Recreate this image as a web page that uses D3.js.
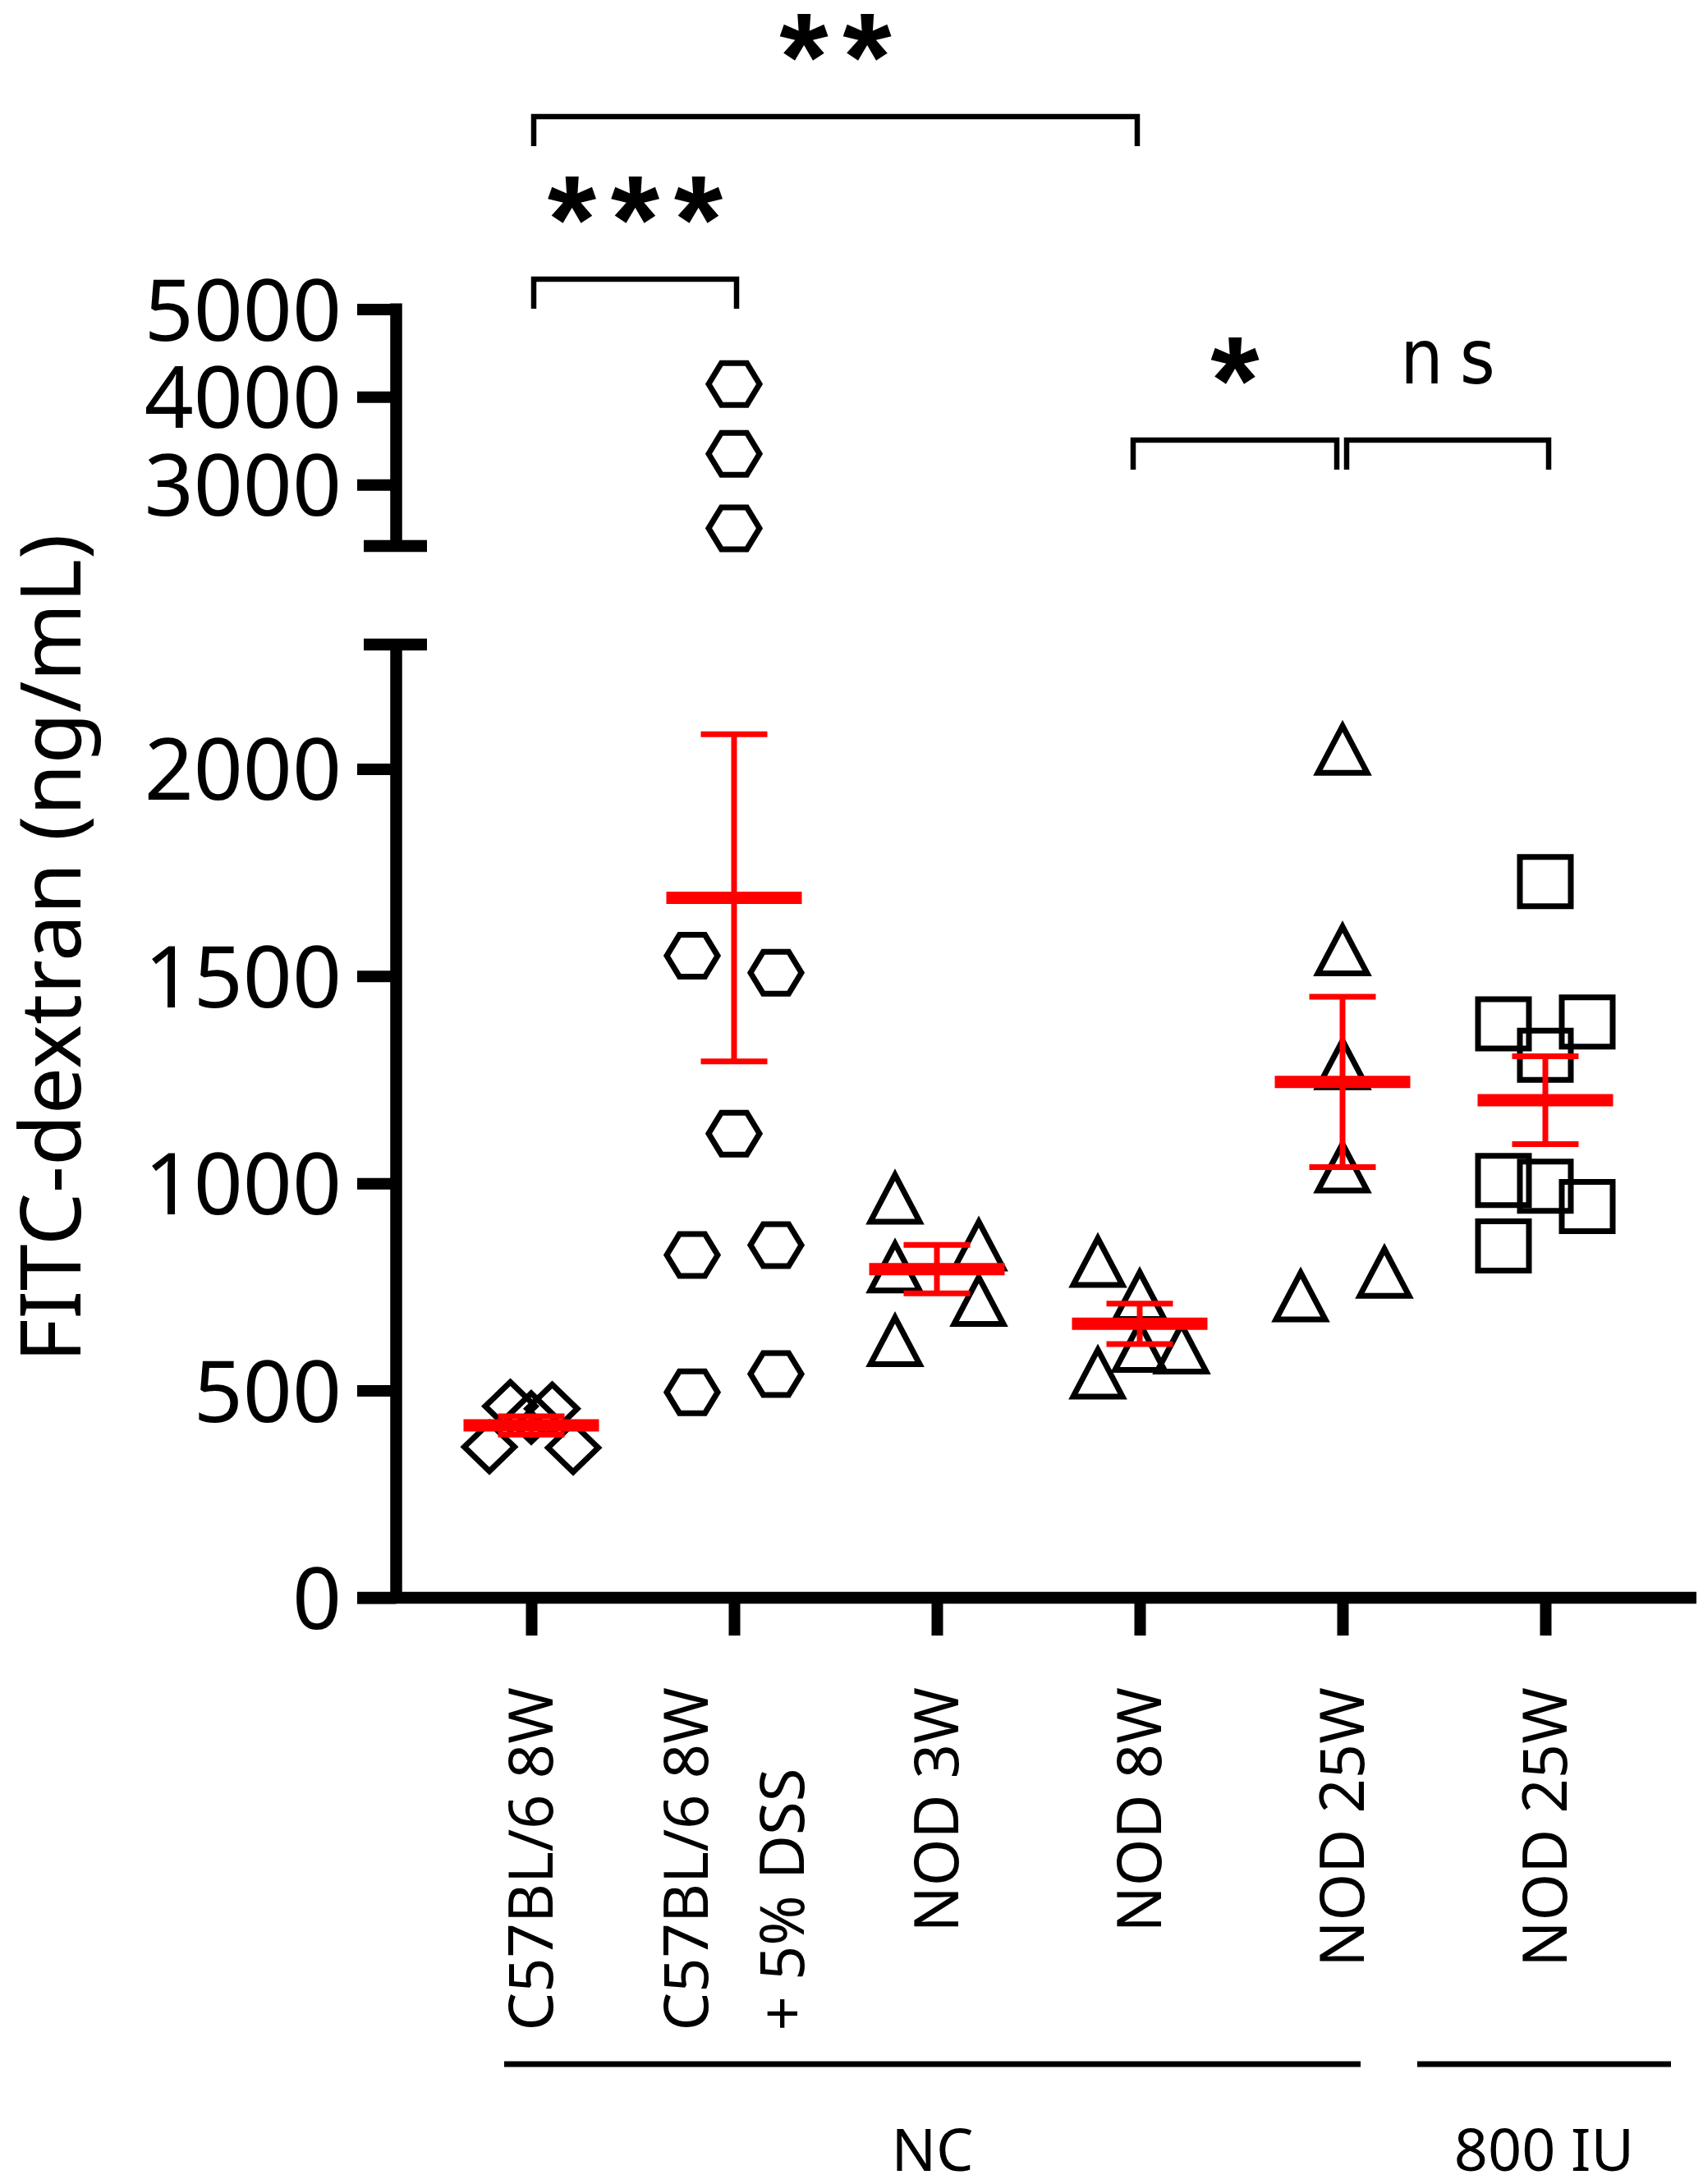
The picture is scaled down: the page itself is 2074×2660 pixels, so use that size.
<!DOCTYPE html>
<html>
<head>
<meta charset="utf-8">
<script src="https://cdn.jsdelivr.net/npm/d3@7"></script>
<style>
  body { margin: 0; background: #fff; }
</style>
</head>
<body>
<div id="chart"></div>
<script>
// groups, in x order
const groups = ["C57BL/6 8W", "C57BL/6 8W + 5% DSS", "NOD 3W", "NOD 8W", "NOD 25W", "NOD 25W 800 IU"];
const groupLabels = [["C57BL/6 8W"], ["C57BL/6 8W", "+ 5% DSS"], ["NOD 3W"], ["NOD 8W"], ["NOD 25W"], ["NOD 25W"]];
const shapes = ["diamond", "hexagon", "triangle", "triangle", "triangle", "square"];

// FITC-dextran (ng/mL) per animal
const c57 = [462, 456, 435, 364, 362];
const c57dss = [4146, 3350, 2502, 1549, 1508, 1120, 827, 851, 496, 540];
const nod3 = [967, 801, 623, 854, 720];
const nod8 = [814, 732, 609, 605, 545];
const nod25 = [2050, 1566, 1291, 1042, 731, 788];
const nod25iu = [1728, 1385, 1389, 1309, 1007, 993, 944, 849];

// scatter column of each point (0 = centre)
const c57Col = [-0.5, 0.5, 0, -1, 1];
const c57dssCol = [0, 0, 0, -1, 1, 0, -1, 1, -1, 1];
const nod3Col = [-1, -1, -1, 1, 1];
const nod8Col = [-1, 0, 0, 1, -1];
const nod25Col = [0, 0, 0, 0, -1, 1];
const nod25iuCol = [0, -1, 1, 0, -1, 0, 1, -1];

const values = [c57, c57dss, nod3, nod8, nod25, nod25iu];
const cols = [c57Col, c57dssCol, nod3Col, nod8Col, nod25Col, nod25iuCol];

const lowerTicks = [0, 500, 1000, 1500, 2000];
const upperTicks = [3000, 4000, 5000];
const breakAt = 2300;

const treatments = ["NC", "800 IU"];
const treatmentGroups = [[0, 4], [5, 5]];

const comparisons = [[0, 3], [0, 1], [3, 4], [4, 5]];
const compLabels = ["**", "***", "*", "ns"];

// ---- layout
const W = 2074, H = 2660;
const axisX = 482.5, baseY = 1946;
const font = "'Noto Sans', 'Open Sans', sans-serif";

const svg = d3.select("#chart").append("svg")
  .attr("width", W).attr("height", H)
  .style("background", "#fff");

const x = d3.scalePoint().domain(d3.range(groups.length)).range([647, 1882]);
const colW = 51;
const yLow = d3.scaleLinear().domain([0, breakAt]).range([baseY, 785]);
const yHigh = d3.scaleLinear().domain([breakAt, 5000]).range([665, 376.5]);
const y = v => v > breakAt ? yHigh(v) : yLow(v);

// y axis (two segments)
function styleY(g) {
  g.select(".domain").remove();
  g.selectAll(".tick line").attr("stroke", "#000").attr("stroke-width", 14);
  g.selectAll(".tick text").attr("fill", "#000")
    .style("font-family", font).style("font-size", "105px").attr("dy", "0.357em");
}
svg.append("g").attr("transform", `translate(${axisX},0)`)
  .call(d3.axisLeft(yLow).tickValues(lowerTicks).tickFormat(d3.format("d"))
    .tickSize(47.5).tickPadding(19))
  .call(styleY);
svg.append("g").attr("transform", `translate(${axisX},0)`)
  .call(d3.axisLeft(yHigh).tickValues(upperTicks).tickFormat(d3.format("d"))
    .tickSize(47.5).tickPadding(19))
  .call(styleY);

const spine = svg.append("g").attr("stroke", "#000").attr("stroke-width", 14.5);
spine.append("line").attr("x1", axisX).attr("x2", axisX)
  .attr("y1", baseY + 7).attr("y2", yLow(breakAt));
spine.append("line").attr("x1", axisX).attr("x2", axisX)
  .attr("y1", yHigh(5000) - 7).attr("y2", yHigh(breakAt));
[yLow(breakAt), yHigh(breakAt)].forEach(yy => {
  spine.append("line").attr("x1", 443).attr("x2", 520).attr("y1", yy).attr("y2", yy);
});

// x axis
const xAxis = svg.append("g").attr("transform", `translate(0,${baseY})`)
  .call(d3.axisBottom(x).tickSize(46).tickFormat(""));
xAxis.select(".domain").remove();
xAxis.selectAll(".tick line").attr("stroke", "#000").attr("stroke-width", 14);
spine.append("line").attr("x1", 435).attr("x2", 2066).attr("y1", baseY).attr("y2", baseY);

// y title
svg.append("text")
  .attr("transform", `translate(98,1155) rotate(-90)`)
  .attr("text-anchor", "middle")
  .style("font-family", font).style("font-size", "102px")
  .text("FITC-dextran (ng/mL)");

// symbols
function symbolPath(shape) {
  const p = d3.path();
  if (shape === "diamond") {
    p.moveTo(0, -29.5); p.lineTo(30.5, 0); p.lineTo(0, 29.5); p.lineTo(-30.5, 0);
  } else if (shape === "hexagon") {
    p.moveTo(-31, 0); p.lineTo(-15.5, -25.5); p.lineTo(15.5, -25.5);
    p.lineTo(31, 0); p.lineTo(15.5, 25.5); p.lineTo(-15.5, 25.5);
  } else if (shape === "triangle") {
    p.moveTo(0, -27); p.lineTo(30, 30); p.lineTo(-30, 30);
  } else {
    p.rect(-31, -30, 62, 60);
  }
  p.closePath();
  return p.toString();
}

const points = values.flatMap((vals, gi) =>
  vals.map((v, k) => ({ g: gi, v: v, col: cols[gi][k] })));

svg.append("g")
  .selectAll("path")
  .data(points)
  .join("path")
  .attr("d", d => symbolPath(shapes[d.g]))
  .attr("transform", d => `translate(${x(d.g) + d.col * colW},${y(d.v)})`)
  .attr("fill", "none")
  .attr("stroke", "#000")
  .attr("stroke-width", 7)
  .attr("stroke-linejoin", "miter");

// mean +/- SEM
const stats = values.map((vals, gi) => {
  const m = d3.mean(vals);
  const sem = d3.deviation(vals) / Math.sqrt(vals.length);
  return { g: gi, mean: m, lo: m - sem, hi: m + sem };
});
const red = "#ff0000";
const eb = svg.append("g").attr("stroke", red);
eb.selectAll(".stem").data(stats).join("line").attr("class", "stem")
  .attr("x1", d => x(d.g)).attr("x2", d => x(d.g))
  .attr("y1", d => y(d.lo)).attr("y2", d => y(d.hi))
  .attr("stroke-width", 7);
eb.selectAll(".cap").data(stats.flatMap(d => [{ g: d.g, v: d.lo }, { g: d.g, v: d.hi }]))
  .join("line").attr("class", "cap")
  .attr("x1", d => x(d.g) - 40.5).attr("x2", d => x(d.g) + 40.5)
  .attr("y1", d => y(d.v)).attr("y2", d => y(d.v))
  .attr("stroke-width", 7);
eb.selectAll(".mean").data(stats).join("line").attr("class", "mean")
  .attr("x1", d => x(d.g) - 82.5).attr("x2", d => x(d.g) + 82.5)
  .attr("y1", d => y(d.mean)).attr("y2", d => y(d.mean))
  .attr("stroke-width", 15);

// group labels (rotated, block ends at labelTop)
const labelSize = 74, labelLine = 117.5, labelTop = 2055, cap = 0.714 * labelSize;
groupLabels.forEach((lines, i) => {
  const g = svg.append("g");
  const texts = lines.map(t => g.append("text")
    .style("font-family", font).style("font-size", labelSize + "px").text(t));
  const block = d3.max(texts, t => t.node().getComputedTextLength());
  texts.forEach((t, j) => {
    const bx = x(i) - (lines.length - 1) * labelLine / 2 + j * labelLine + cap / 2;
    t.attr("transform", `translate(${bx},${labelTop + block}) rotate(-90)`);
  });
});

// treatment lines
const trPad = [[-33, 22], [-156, 153]];
treatmentGroups.forEach((r, i) => {
  const x1 = x(r[0]) + trPad[i][0], x2 = x(r[1]) + trPad[i][1];
  svg.append("line").attr("x1", x1).attr("x2", x2).attr("y1", 2514).attr("y2", 2514)
    .attr("stroke", "#000").attr("stroke-width", 7);
  svg.append("text").attr("x", (x1 + x2) / 2).attr("y", 2644)
    .attr("text-anchor", "middle")
    .style("font-family", font).style("font-size", "72px")
    .text(treatments[i]);
});

// significance brackets
const bracketY = [142, 340, 536, 536];
const legs = [[3, -3], [3, 3], [-8, -7], [5, 4]];
const ctx = document.createElement("canvas").getContext("2d");
const starFont = "'Liberation Sans', Arial, sans-serif";
ctx.font = `bold 100px ${starFont}`;
const sm = ctx.measureText("*");
const starH = sm.actualBoundingBoxAscent + sm.actualBoundingBoxDescent;
const starSize = 100 * 58 / starH;
const starMid = (sm.actualBoundingBoxAscent - sm.actualBoundingBoxDescent) / 2 * starSize / 100;
const starAdv = sm.width * starSize / 100;
const starStep = 77;

comparisons.forEach((c, i) => {
  const x1 = x(c[0]) + legs[i][0], x2 = x(c[1]) + legs[i][1], by = bracketY[i];
  const p = d3.path();
  p.moveTo(x1, by + 36); p.lineTo(x1, by); p.lineTo(x2, by); p.lineTo(x2, by + 36);
  svg.append("path").attr("d", p.toString())
    .attr("fill", "none").attr("stroke", "#000").attr("stroke-width", 6.5);
  const label = compLabels[i];
  const cx = (x1 + x2) / 2;
  if (label === "ns") {
    svg.append("text").attr("x", cx + 10).attr("y", by - 69)
      .attr("text-anchor", "middle")
      .style("font-family", "'Liberation Sans Narrow', 'DejaVu Sans Condensed', sans-serif")
      .style("font-size", "92px").style("letter-spacing", "20px")
      .text(label);
  } else {
    const ls = starStep - starAdv;
    svg.append("text").attr("x", cx + ls / 2).attr("y", by - 96.5 + starMid)
      .attr("text-anchor", "middle")
      .style("font-family", starFont).style("font-weight", "bold")
      .style("font-size", starSize + "px").style("letter-spacing", ls + "px")
      .text(label);
  }
});
</script>
</body>
</html>
